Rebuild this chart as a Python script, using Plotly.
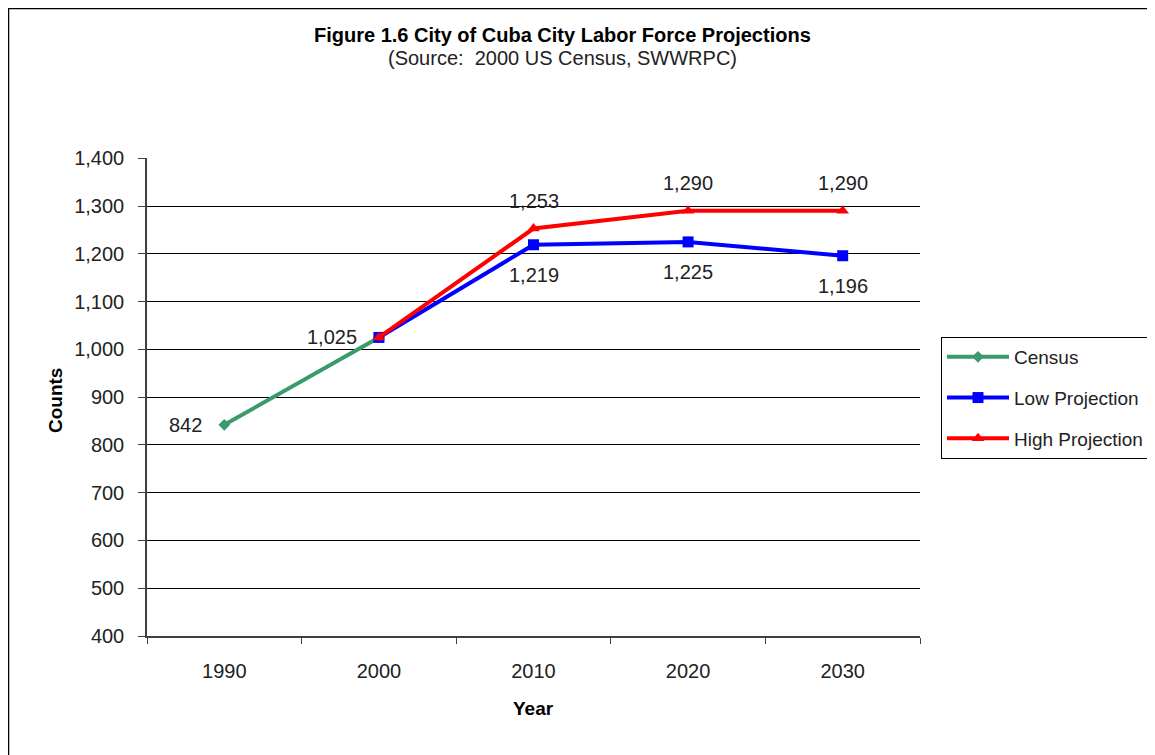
import plotly.graph_objects as go

years = ["1990", "2000", "2010", "2020", "2030"]
census_years = ["1990", "2000"]
census_vals = [842, 1025]
proj_years = ["2000", "2010", "2020", "2030"]
low_vals = [1025, 1219, 1225, 1196]
high_vals = [1025, 1253, 1290, 1290]
y_ticks = [400, 500, 600, 700, 800, 900, 1000, 1100, 1200, 1300, 1400]

FONT = "Arial, 'Liberation Sans', sans-serif"
TXT = "#222222"
AX = "#404040"

GREEN = "#3A9A6B"
BLUE = "#0000FF"
RED = "#FF0000"

W, H = 1147, 747
ML, MT, PW, PH = 139, 150, 773, 478
MR, MB = W - ML - PW, H - MT - PH


def px(fx):
    return (fx - ML) / PW


def py(fy):
    return (MT + PH - fy) / PH


fig = go.Figure()
fig.add_trace(go.Scatter(
    x=census_years, y=census_vals, name="Census", mode="lines+markers",
    line=dict(color=GREEN, width=4), marker=dict(symbol="diamond", size=9, color=GREEN),
    legendgroup="a"))
fig.add_trace(go.Scatter(
    x=proj_years, y=low_vals, name="Low Projection", mode="lines+markers",
    line=dict(color=BLUE, width=4), marker=dict(symbol="square", size=11, color=BLUE),
    legendgroup="b"))
fig.add_trace(go.Scatter(
    x=proj_years, y=high_vals, name="High Projection", mode="lines+markers",
    line=dict(color=RED, width=4), marker=dict(symbol="triangle-up", size=11, color=RED),
    legendgroup="c"))

lab_font = dict(family=FONT, size=20, color=TXT)
annotations = []
for xv, yv in zip(census_years, census_vals):
    annotations.append(dict(x=years.index(xv), y=yv, xref="x", yref="y", text=f"{yv:,}",
                            showarrow=False, xanchor="right", yanchor="middle", xshift=-20,
                            font=lab_font))
for xv, yv in zip(proj_years[1:], high_vals[1:]):
    annotations.append(dict(x=years.index(xv), y=yv, xref="x", yref="y", text=f"{yv:,}",
                            showarrow=False, xanchor="center", yanchor="middle", yshift=28,
                            font=lab_font))
for xv, yv in zip(proj_years[1:], low_vals[1:]):
    annotations.append(dict(x=years.index(xv), y=yv, xref="x", yref="y", text=f"{yv:,}",
                            showarrow=False, xanchor="center", yanchor="middle", yshift=-30,
                            font=lab_font))

annotations += [
    dict(x=px(554.5), y=py(27), xref="paper", yref="paper", showarrow=False,
         text="<b>Figure 1.6 City of Cuba City Labor Force Projections</b>",
         font=dict(family=FONT, size=20, color="#000000"), xanchor="center", yanchor="middle"),
    dict(x=px(554.5), y=py(50), xref="paper", yref="paper", showarrow=False,
         text="(Source:  2000 US Census, SWWRPC)",
         font=dict(family=FONT, size=20, color=TXT), xanchor="center", yanchor="middle"),
    dict(x=px(47), y=py(393), xref="paper", yref="paper", showarrow=False, textangle=-90,
         text="<b>Counts</b>", font=dict(family=FONT, size=19, color="#000000"),
         xanchor="center", yanchor="middle"),
    dict(x=px(525), y=py(700), xref="paper", yref="paper", showarrow=False,
         text="<b>Year</b>", font=dict(family=FONT, size=19, color="#000000"),
         xanchor="center", yanchor="middle"),
]

fig.update_layout(
    width=W, height=H, autosize=False,
    margin=dict(l=ML, r=MR, t=MT, b=MB, autoexpand=False),
    paper_bgcolor="white", plot_bgcolor="white",
    font=dict(family=FONT, size=20, color=TXT),
    showlegend=True,
    legend=dict(x=px(933), y=py(329), xanchor="left", yanchor="top",
                bordercolor="#000000", borderwidth=1, bgcolor="white",
                font=dict(family=FONT, size=19, color=TXT),
                traceorder="grouped", tracegroupgap=13, itemwidth=62),
    annotations=annotations,
    shapes=[dict(type="rect", xref="paper", yref="paper", x0=px(0.5), y0=-0.5,
                 x1=1.6, y1=py(0.5), line=dict(color="#000000", width=1.5),
                 fillcolor="rgba(0,0,0,0)", layer="below")],
)
fig.update_xaxes(type="category", categoryorder="array", categoryarray=years,
                 range=[-0.5, 4.5], tickson="boundaries", ticks="outside", ticklen=6,
                 tickcolor=AX, showline=True, linecolor=AX, linewidth=1.5,
                 showgrid=False, zeroline=False, ticklabelstandoff=16,
                 tickfont=dict(family=FONT, size=20, color=TXT))
fig.update_yaxes(range=[400, 1400.6], tickvals=y_ticks, tickformat=",d",
                 ticks="outside", ticklen=7, tickcolor=AX, showline=True, linecolor=AX,
                 linewidth=1.5, showgrid=True, gridcolor="#000000", gridwidth=1,
                 zeroline=False, ticklabelstandoff=10,
                 tickfont=dict(family=FONT, size=20, color=TXT))

fig.write_html("out.html")
